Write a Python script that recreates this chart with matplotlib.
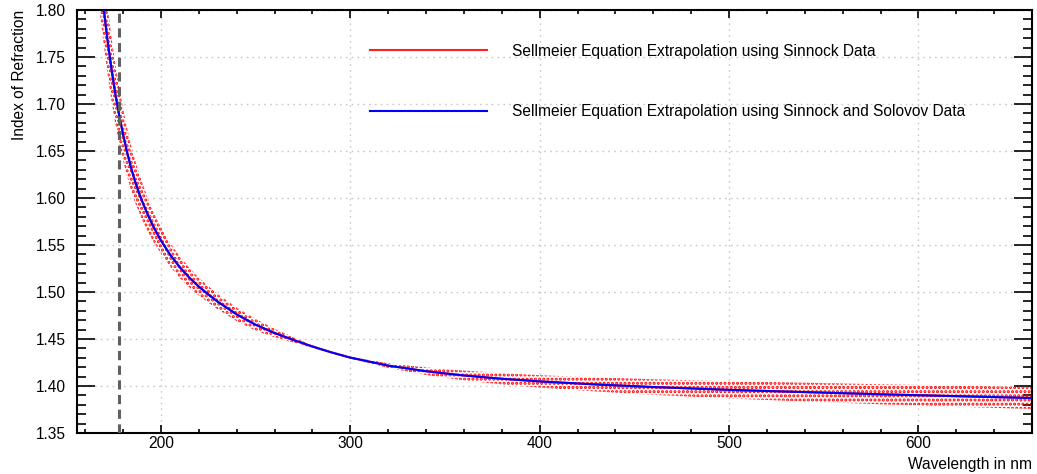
import numpy as np
import matplotlib
matplotlib.use("Agg")
import matplotlib.pyplot as plt
from matplotlib.ticker import MultipleLocator, FormatStrFormatter

plt.rcParams['font.family'] = ['Liberation Sans', 'DejaVu Sans']
plt.rcParams['hatch.linewidth'] = 1.5

# wavelength (nm) and index of refraction
wavelength = [168, 170, 172, 174, 176, 178, 180, 182, 184, 186, 188, 190, 193, 196,
              200, 205, 210, 215, 220, 225, 230, 240, 250, 260, 270, 280, 290, 300,
              320, 340, 360, 380, 400, 430, 460, 500, 540, 580, 620, 660]
index_sinnock = [1.833, 1.798, 1.765, 1.736, 1.710, 1.688, 1.668, 1.650, 1.634, 1.620,
                 1.608, 1.597, 1.5825, 1.5696, 1.5548, 1.5393, 1.5263, 1.5153, 1.5058, 1.4975,
                 1.4897, 1.4762, 1.4652, 1.4564, 1.4490, 1.4420, 1.4358, 1.4302, 1.4217, 1.4157,
                 1.4112, 1.4077, 1.4049, 1.4016, 1.3989, 1.3959, 1.3935, 1.3912, 1.3892, 1.3872]
index_solovov = index_sinnock
# half width of the uncertainty band
band_err = [0.040, 0.038, 0.036, 0.034, 0.032, 0.030, 0.028, 0.026, 0.024, 0.023,
            0.021, 0.020, 0.018, 0.016, 0.014, 0.0125, 0.0115, 0.0105, 0.0095, 0.0088,
            0.0082, 0.0072, 0.0062, 0.0045, 0.0028, 0.0015, 0.0008, 0.0010, 0.0025, 0.0040,
            0.0052, 0.0060, 0.0066, 0.0075, 0.0083, 0.0092, 0.0100, 0.0107, 0.0112, 0.0117]
cutoff_nm = 178

lam = np.array(wavelength)
n_red = np.array(index_sinnock)
err = np.array(band_err)

FS = 11.2

fig = plt.figure(figsize=(10.37, 4.74), dpi=100)
ax = fig.add_axes([77/1037, 1 - 433/474, 955/1037, 423/474])

# uncertainty band, dotted red fill
ax.fill_between(lam, n_red - err, n_red + err, facecolor='none', edgecolor='#ff0000',
                hatch='....', linewidth=0, zorder=2)
ax.plot(lam, n_red, color='#ff2020', lw=1.5, zorder=3,
        label='Sellmeier Equation Extrapolation using Sinnock Data')
ax.plot(lam, index_solovov, color='#0000ff', lw=1.5, zorder=4,
        label='Sellmeier Equation Extrapolation using Sinnock and Solovov Data')
ax.axvline(cutoff_nm, color='#606060', lw=2.2, ls=(0, (3, 1.8)), zorder=5)

ax.set_xlim(155.7, 660)
ax.set_ylim(1.35, 1.80)
ax.xaxis.set_major_locator(MultipleLocator(100))
ax.xaxis.set_minor_locator(MultipleLocator(20))
ax.yaxis.set_major_locator(MultipleLocator(0.05))
ax.yaxis.set_minor_locator(MultipleLocator(0.01))
ax.yaxis.set_major_formatter(FormatStrFormatter('%.2f'))

ax.grid(True, which='major', color='#c8c8c8', lw=1.0, ls=(0, (1.2, 3)))
ax.set_axisbelow(True)

ax.tick_params(which='both', direction='in', top=True, right=True, width=1.2,
               labelsize=FS, colors='black')
ax.tick_params(axis='x', which='major', length=6, pad=2.5)
ax.tick_params(axis='x', which='minor', length=3)
ax.tick_params(axis='y', which='major', length=13, pad=8)
ax.tick_params(axis='y', which='minor', length=6.5)
for s in ax.spines.values():
    s.set_linewidth(1.5)

ax.set_xlabel('Wavelength in nm', loc='right', fontsize=FS, labelpad=4)
ax.set_ylabel('Index of Refraction', loc='top', fontsize=FS, labelpad=6.5)

ax.legend(loc='upper left', bbox_to_anchor=(0.307, 0.92), frameon=False, fontsize=FS,
          handlelength=7.5, handletextpad=1.6, labelspacing=2.9, borderaxespad=0,
          borderpad=0)

fig.savefig('out.png', dpi=100)
